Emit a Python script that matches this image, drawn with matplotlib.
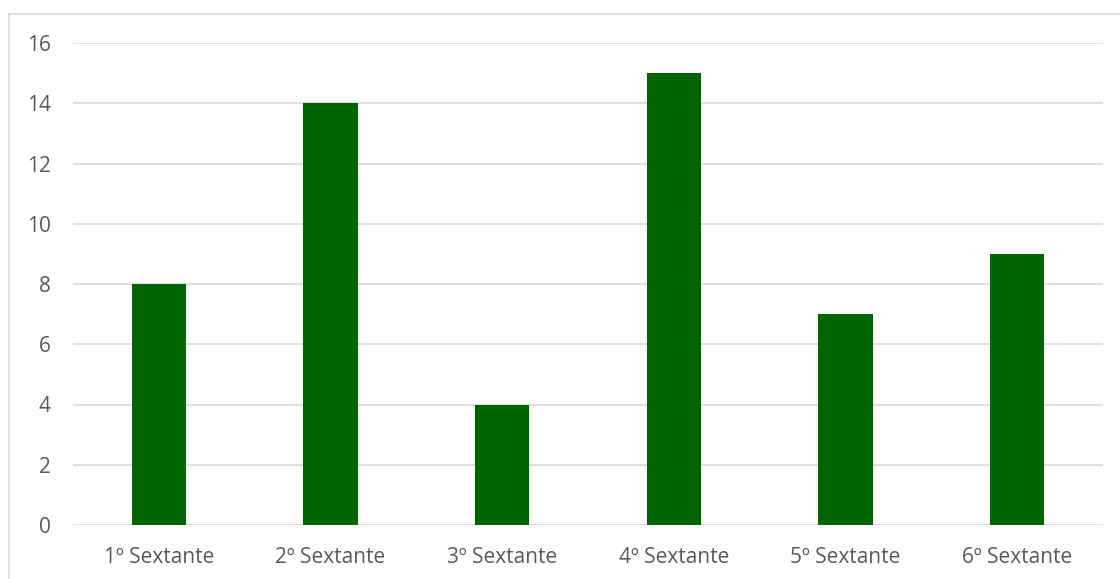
import numpy as np
import matplotlib.pyplot as plt
from matplotlib.patches import Rectangle

categories = ['1º Sextante', '2º Sextante', '3º Sextante',
              '4º Sextante', '5º Sextante', '6º Sextante']
values = [8, 14, 4, 15, 7, 9]

plt.rcParams['font.family'] = ['Open Sans', 'DejaVu Sans']

fig = plt.figure(figsize=(11.2, 5.79), dpi=100)
fig.patches.append(Rectangle((9 / 1120, -0.1), 1.2, 1 - 14 / 579 + 0.1,
                             transform=fig.transFigure, fill=False,
                             edgecolor='#d9d9d9', linewidth=1.2))

ax = fig.add_axes([73 / 1120, 1 - 525 / 579, 1030 / 1120, (525 - 43) / 579])
x = np.arange(len(categories))
ax.bar(x, values, width=0.315, color='#006400', zorder=3)

ax.set_xlim(-0.5, len(categories) - 0.5)
ax.set_ylim(0, 16)
ax.set_yticks(range(0, 17, 2))
ax.set_xticks(x)
ax.set_xticklabels(categories)
ax.grid(axis='y', color='#d9d9d9', linewidth=1.2, zorder=0)
for s in ax.spines.values():
    s.set_visible(False)
ax.tick_params(length=0, labelsize=15, colors='#595959')
ax.tick_params(axis='y', pad=16)
ax.tick_params(axis='x', pad=16)

fig.savefig('out.png', dpi=100)
